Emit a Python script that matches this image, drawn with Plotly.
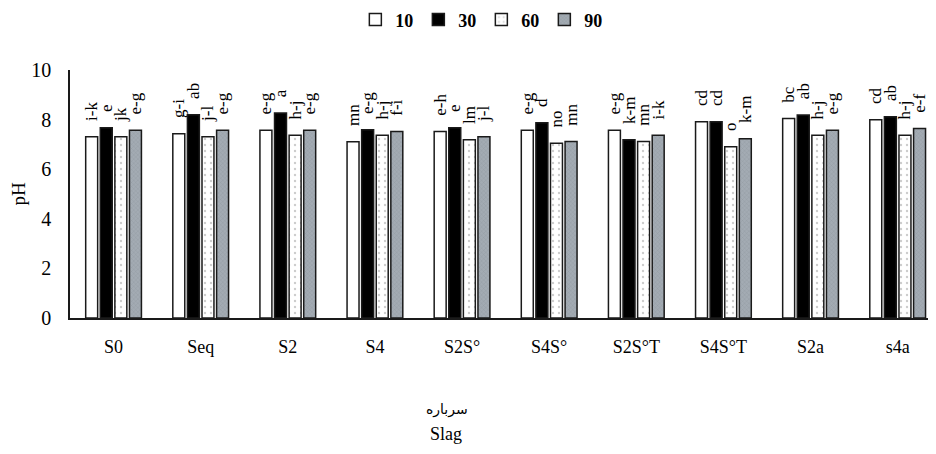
import plotly.graph_objects as go

categories = ["S0", "Seq", "S2", "S4", "S2S°", "S4S°", "S2S°T", "S4S°T", "S2a", "s4a"]
series_names = ["10", "30", "60", "90"]
v10 = [7.31, 7.43, 7.57, 7.11, 7.52, 7.57, 7.57, 7.91, 8.04, 7.99]
v30 = [7.67, 8.20, 8.27, 7.59, 7.67, 7.87, 7.19, 7.91, 8.19, 8.11]
v60 = [7.31, 7.31, 7.37, 7.37, 7.19, 7.05, 7.12, 6.91, 7.37, 7.37]
v90 = [7.57, 7.57, 7.57, 7.52, 7.31, 7.12, 7.37, 7.23, 7.57, 7.64]
l10 = ["i-k", "g-i", "e-g", "mn", "e-h", "e-g", "e-g", "cd", "bc", "cd"]
l30 = ["e", "ab", "a", "e-g", "e", "d", "k-m", "cd", "ab", "ab"]
l60 = ["jk", "j-l", "h-j", "h-j", "lm", "no", "mn", "o", "h-j", "h-j"]
l90 = ["e-g", "e-g", "e-g", "f-i", "j-l", "mn", "i-k", "k-m", "e-g", "e-f"]

SERIF = "Liberation Serif"

styles = [
    dict(color="white", pattern=None),
    dict(color="black", pattern=None),
    dict(color="white", pattern=dict(shape=".", fgcolor="#9a9a9a", size=6, solidity=0.12)),
    dict(color="#a3abb3", pattern=dict(shape="x", fgcolor="#7f878f", size=3, solidity=0.25)),
]

fig = go.Figure()
for name, vals, labs, st in zip(series_names, [v10, v30, v60, v90], [l10, l30, l60, l90], styles):
    marker = dict(color=st["color"], line=dict(color="#1a1a1a", width=1.5))
    if st["pattern"]:
        marker["pattern"] = st["pattern"]
    fig.add_trace(go.Bar(
        x=categories, y=vals, name=name, marker=marker,
        text=["\u00a0\u00a0\u00a0" + t for t in labs], textposition="outside", textangle=-90,
        textfont=dict(family=SERIF, size=17, color="black"),
        cliponaxis=False, constraintext="none",
    ))

fig.update_layout(
    width=936, height=454,
    margin=dict(l=62, r=8, t=62, b=144),
    paper_bgcolor="white", plot_bgcolor="white",
    barmode="group", bargap=0.33, bargroupgap=0.18,
    showlegend=True,
    legend=dict(orientation="h", x=0.475, xanchor="center", y=0.974, yanchor="middle",
                yref="container", font=dict(family=SERIF, size=18, color="black", weight="bold"),
                traceorder="normal", itemwidth=30),
    font=dict(family=SERIF, color="black"),
)
fig.update_xaxes(range=[-0.5, 9.44], showline=True, linecolor="#1a1a1a", linewidth=1.5,
                 ticks="", ticklabelstandoff=12, automargin=False,
                 tickfont=dict(family=SERIF, size=18, color="black"), showgrid=False)
fig.update_yaxes(range=[0, 10], dtick=2, showline=True, linecolor="#1a1a1a", linewidth=1.5,
                 ticks="", showgrid=False, zeroline=False, ticklabelstandoff=13, automargin=False,
                 tickfont=dict(family=SERIF, size=20, color="black"),
                 title=dict(text="pH", font=dict(family=SERIF, size=19, color="black"), standoff=10))
fig.add_annotation(text="سرباره", xref="paper", yref="paper", x=(447-70)/866, y=-(410-318.5)/248,
                   yanchor="middle", showarrow=False,
                   font=dict(family="DejaVu Serif, DejaVu Sans", size=14, color="black"))
fig.add_annotation(text="Slag", xref="paper", yref="paper", x=(446-70)/866, y=-(434-318.5)/248,
                   yanchor="middle", showarrow=False, font=dict(family=SERIF, size=18, color="black"))

fig.write_html("out.html")
